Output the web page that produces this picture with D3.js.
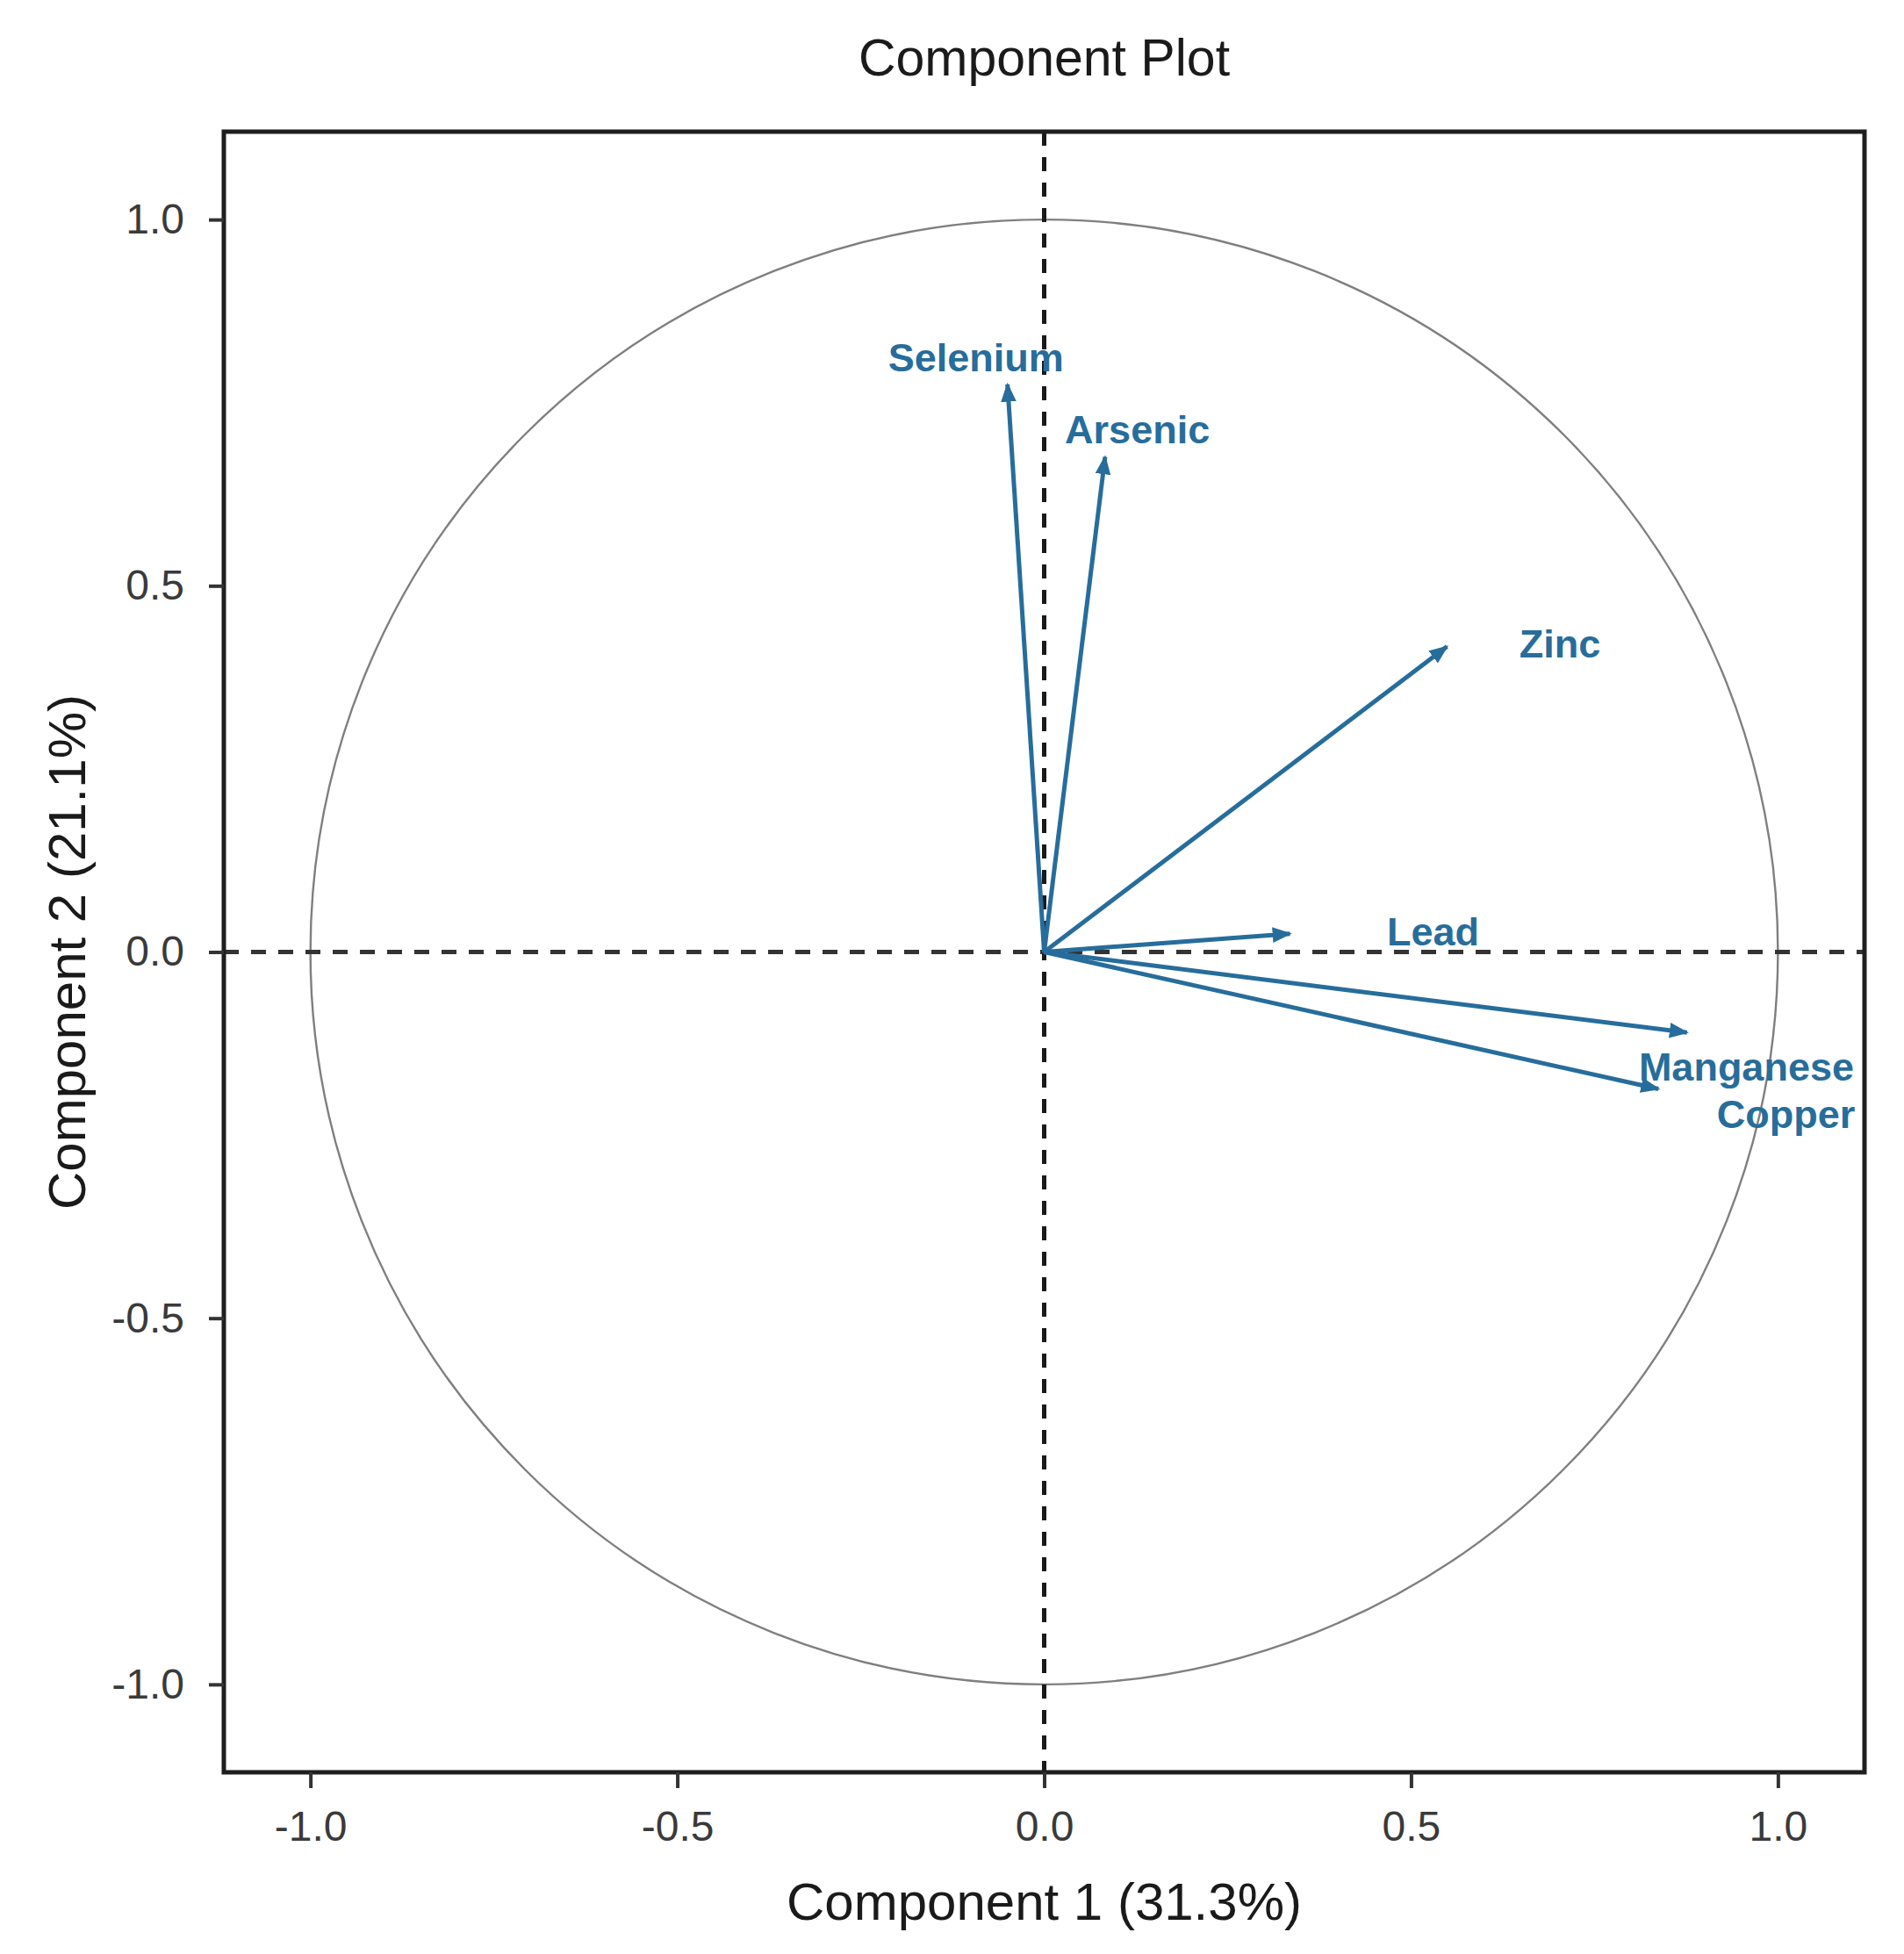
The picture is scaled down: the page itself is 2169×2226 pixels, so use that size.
<!DOCTYPE html>
<html>
<head>
<meta charset="utf-8">
<script src="https://cdn.jsdelivr.net/npm/d3@7"></script>
<style>
  body { margin: 0; background: #fff; }
  text { font-family: "Liberation Sans", Arial, sans-serif; }
</style>
</head>
<body>
<div id="chart"></div>
<script>
// variables and their loadings on the first two components
const variables = ["Selenium", "Arsenic", "Zinc", "Lead", "Manganese", "Copper"];
const comp1 = [-0.050, 0.083, 0.549, 0.335, 0.876, 0.837];
const comp2 = [0.775, 0.676, 0.417, 0.025, -0.110, -0.187];
// where each label sits (data units, label centre)
const labelX = [-0.093, 0.127, 0.703, 0.530, 0.957, 1.011];
const labelY = [0.812, 0.713, 0.421, 0.028, -0.157, -0.221];

const xTicks = [-1.0, -0.5, 0.0, 0.5, 1.0];
const yTicks = [-1.0, -0.5, 0.0, 0.5, 1.0];

const W = 2169, H = 2226;
const panel = {left: 255, right: 2124, top: 150, bottom: 2019};
const blue = "#276d9b";

let svg = d3.select("#chart")
    .append("svg")
    .attr("width", W)
    .attr("height", H);

let x = d3.scaleLinear()
    .domain([-1.118, 1.118])
    .range([panel.left, panel.right]);

let y = d3.scaleLinear()
    .domain([-1.12, 1.12])
    .range([panel.bottom, panel.top]);

// arrow head marker
svg.append("defs").append("marker")
    .attr("id", "head")
    .attr("markerUnits", "userSpaceOnUse")
    .attr("viewBox", "0 -10 20 20")
    .attr("refX", 18)
    .attr("refY", 0)
    .attr("markerWidth", 22)
    .attr("markerHeight", 22)
    .attr("orient", "auto")
    .append("path")
    .attr("d", "M0,-8L20,0L0,8Z")
    .attr("fill", blue);

// unit circle
svg.append("ellipse")
    .attr("cx", x(0))
    .attr("cy", y(0))
    .attr("rx", x(1) - x(0))
    .attr("ry", y(0) - y(1))
    .attr("fill", "none")
    .attr("stroke", "#7f7f7f")
    .attr("stroke-width", 2.4);

// dashed reference lines
svg.append("line")
    .attr("x1", x(0)).attr("x2", x(0))
    .attr("y1", panel.top).attr("y2", panel.bottom)
    .attr("stroke", "#1a1a1a")
    .attr("stroke-width", 5)
    .attr("stroke-dasharray", "16,13");

svg.append("line")
    .attr("x1", panel.left).attr("x2", panel.right)
    .attr("y1", y(0)).attr("y2", y(0))
    .attr("stroke", "#333")
    .attr("stroke-width", 5)
    .attr("stroke-dasharray", "17,14");

// loading arrows
svg.selectAll(".arrow")
    .data(variables)
    .enter()
    .append("line")
    .attr("class", "arrow")
    .attr("x1", x(0))
    .attr("y1", y(0))
    .attr("x2", (d, i) => x(comp1[i]))
    .attr("y2", (d, i) => y(comp2[i]))
    .attr("stroke", blue)
    .attr("stroke-width", 5)
    .attr("marker-end", "url(#head)");

svg.selectAll(".varlabel")
    .data(variables)
    .enter()
    .append("text")
    .attr("class", "varlabel")
    .attr("x", (d, i) => x(labelX[i]))
    .attr("y", (d, i) => y(labelY[i]))
    .attr("dy", "0.35em")
    .attr("text-anchor", "middle")
    .attr("font-weight", "bold")
    .attr("font-size", 45)
    .attr("fill", blue)
    .text(d => d);

// panel border
svg.append("rect")
    .attr("x", panel.left)
    .attr("y", panel.top)
    .attr("width", panel.right - panel.left)
    .attr("height", panel.bottom - panel.top)
    .attr("fill", "none")
    .attr("stroke", "#1e1e1e")
    .attr("stroke-width", 5);

// axes
let xAxis = svg.append("g")
    .attr("transform", "translate(0," + panel.bottom + ")")
    .call(d3.axisBottom(x).tickValues(xTicks).tickFormat(d3.format(".1f")).tickSize(18).tickPadding(26));

let yAxis = svg.append("g")
    .attr("transform", "translate(" + panel.left + ",0)")
    .call(d3.axisLeft(y).tickValues(yTicks).tickFormat(d3.format(".1f")).tickSize(17).tickPadding(28));

[xAxis, yAxis].forEach(function(a) {
    a.select(".domain").remove();
    a.selectAll(".tick line").attr("stroke", "#333").attr("stroke-width", 4);
    a.selectAll(".tick text")
        .attr("fill", "#3a3a3a")
        .attr("font-size", 48)
        .attr("font-family", "Liberation Sans, Arial, sans-serif");
});
// d3 uses a unicode minus; the reference uses a hyphen
xAxis.selectAll(".tick text").text(d => d3.format(".1f")(d).replace("\u2212", "-"));
yAxis.selectAll(".tick text").text(d => d3.format(".1f")(d).replace("\u2212", "-"));

// titles
svg.append("text")
    .attr("x", (panel.left + panel.right) / 2)
    .attr("y", 86)
    .attr("text-anchor", "middle")
    .attr("font-size", 59)
    .attr("fill", "#1a1a1a")
    .text("Component Plot");

svg.append("text")
    .attr("x", (panel.left + panel.right) / 2)
    .attr("y", 2187)
    .attr("text-anchor", "middle")
    .attr("font-size", 60)
    .attr("fill", "#1a1a1a")
    .text("Component 1 (31.3%)");

svg.append("text")
    .attr("transform", "translate(97," + y(0) + ") rotate(-90)")
    .attr("text-anchor", "middle")
    .attr("font-size", 60)
    .attr("fill", "#1a1a1a")
    .text("Component 2 (21.1%)");
</script>
</body>
</html>
